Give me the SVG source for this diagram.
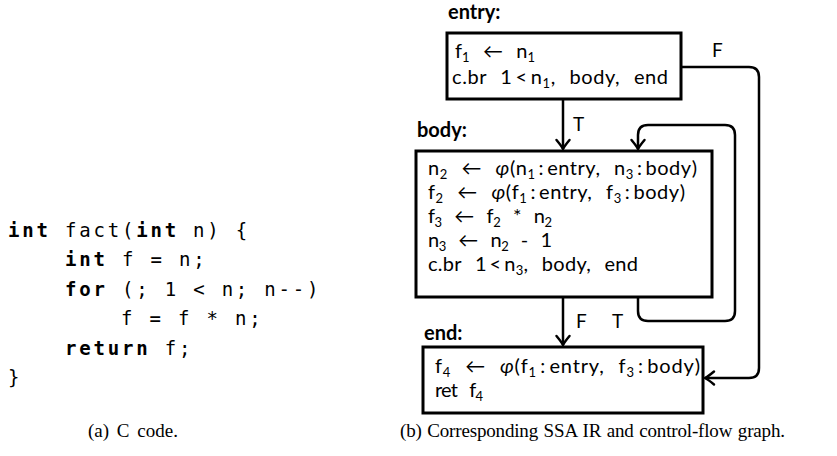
<svg xmlns="http://www.w3.org/2000/svg" width="837" height="456" viewBox="0 0 837 456">
<defs>
<style>
.code{font-family:"DejaVu Sans Mono",monospace;font-size:19px;letter-spacing:2.8px;fill:#000}
.kw{font-weight:bold}
.ir{font-family:Lato,"Open Sans",sans-serif;font-size:20px;word-spacing:8px;fill:#000}
.sub{font-size:13px}
.lbl{font-family:Lato,"Open Sans",sans-serif;font-size:20px;font-weight:bold;fill:#000}
.edge{font-family:Lato,"Open Sans",sans-serif;font-size:19px;fill:#000}
.cap{font-family:"Liberation Serif",serif;font-size:19px;fill:#000}
.box{fill:#fff;stroke:#000;stroke-width:3}
.conn{fill:none;stroke:#000;stroke-width:2.5;stroke-linejoin:round}
</style>
<marker id="ah" markerUnits="userSpaceOnUse" markerWidth="20" markerHeight="20" refX="0" refY="0" viewBox="-10 -10 20 20" orient="auto" overflow="visible">
<path d="M-9,-6.5 Q-3,-1.5 0,0 Q-3,1.5 -9,6.5" fill="none" stroke="#000" stroke-width="2.5" stroke-linecap="round"/>
</marker>
</defs>

<g id="code">
<text class="code" x="8" y="237"><tspan class="kw">int</tspan> fact(<tspan class="kw">int</tspan> n) {</text>
<text class="code" x="65" y="266"><tspan class="kw">int</tspan> f = n;</text>
<text class="code" x="65" y="296"><tspan class="kw">for</tspan> (; 1 &lt; n; n--)</text>
<text class="code" x="121" y="325">f = f * n;</text>
<text class="code" x="65" y="355"><tspan class="kw">return</tspan> f;</text>
<text class="code" x="8" y="384">}</text>
</g>

<g id="connectors">
<path class="conn" d="M563,99 V149" marker-end="url(#ah)"/>
<path class="conn" d="M563,297 V345" marker-end="url(#ah)"/>
<path class="conn" d="M681,67 H749 Q759,67 759,77 V368 Q759,378 749,378 H705" marker-end="url(#ah)"/>
<path class="conn" d="M638,297 V311 Q638,321 648,321 H725 Q735,321 735,311 V135 Q735,125 725,125 H648 Q638,125 638,135 V149" marker-end="url(#ah)"/>
<text class="edge" x="712" y="57">F</text>
<text class="edge" x="573" y="131">T</text>
<text class="edge" x="576" y="328">F</text>
<text class="edge" x="612" y="328">T</text>
</g>

<g id="entry">
<text class="lbl" x="448" y="19">entry:</text>
<rect class="box" x="447" y="33" width="234" height="66"/>
<text class="ir" x="455" y="58" textLength="80" lengthAdjust="spacing">f<tspan class="sub" dy="4">1</tspan><tspan dy="-4"> ← n</tspan><tspan class="sub" dy="4">1</tspan></text>
<text class="ir" x="452" y="84" textLength="216" lengthAdjust="spacing">c.br 1&#8201;&lt;&#8201;n<tspan class="sub" dy="4">1</tspan><tspan dy="-4">, body, end</tspan></text>
</g>

<g id="body">
<text class="lbl" x="417" y="137">body:</text>
<rect class="box" x="416" y="151" width="296" height="146"/>
<text class="ir" x="428" y="175" textLength="269" lengthAdjust="spacing">n<tspan class="sub" dy="4">2</tspan><tspan dy="-4"> ← </tspan><tspan font-style="italic">φ</tspan>(n<tspan class="sub" dy="4">1</tspan><tspan dy="-4">&#8201;:&#8201;entry, n</tspan><tspan class="sub" dy="4">3</tspan><tspan dy="-4">&#8201;:&#8201;body)</tspan></text>
<text class="ir" x="428" y="199" textLength="257" lengthAdjust="spacing">f<tspan class="sub" dy="4">2</tspan><tspan dy="-4"> ← </tspan><tspan font-style="italic">φ</tspan>(f<tspan class="sub" dy="4">1</tspan><tspan dy="-4">&#8201;:&#8201;entry, f</tspan><tspan class="sub" dy="4">3</tspan><tspan dy="-4">&#8201;:&#8201;body)</tspan></text>
<text class="ir" x="428" y="223" textLength="124" lengthAdjust="spacing">f<tspan class="sub" dy="4">3</tspan><tspan dy="-4"> ← f</tspan><tspan class="sub" dy="4">2</tspan><tspan dy="-4"> * n</tspan><tspan class="sub" dy="4">2</tspan></text>
<text class="ir" x="428" y="247" textLength="124" lengthAdjust="spacing">n<tspan class="sub" dy="4">3</tspan><tspan dy="-4"> ← n</tspan><tspan class="sub" dy="4">2</tspan><tspan dy="-4"> - 1</tspan></text>
<text class="ir" x="428" y="271" textLength="210" lengthAdjust="spacing">c.br 1&#8201;&lt;&#8201;n<tspan class="sub" dy="4">3</tspan><tspan dy="-4">, body, end</tspan></text>
</g>

<g id="end">
<text class="lbl" x="424" y="340">end:</text>
<rect class="box" x="423" y="347" width="280" height="66"/>
<text class="ir" x="435" y="373" textLength="265" lengthAdjust="spacing">f<tspan class="sub" dy="4">4</tspan><tspan dy="-4"> ← </tspan><tspan font-style="italic">φ</tspan>(f<tspan class="sub" dy="4">1</tspan><tspan dy="-4">&#8201;:&#8201;entry, f</tspan><tspan class="sub" dy="4">3</tspan><tspan dy="-4">&#8201;:&#8201;body)</tspan></text>
<text class="ir" x="435" y="397" textLength="48" lengthAdjust="spacing">ret f<tspan class="sub" dy="4">4</tspan></text>
</g>

<g id="captions">
<text class="cap" x="88" y="437" font-size="20" style="word-spacing:3px">(a) C code.</text>
<text class="cap" x="400" y="437" style="word-spacing:1px" textLength="385" lengthAdjust="spacing">(b) Corresponding SSA IR and control-flow graph.</text>
</g>
</svg>
